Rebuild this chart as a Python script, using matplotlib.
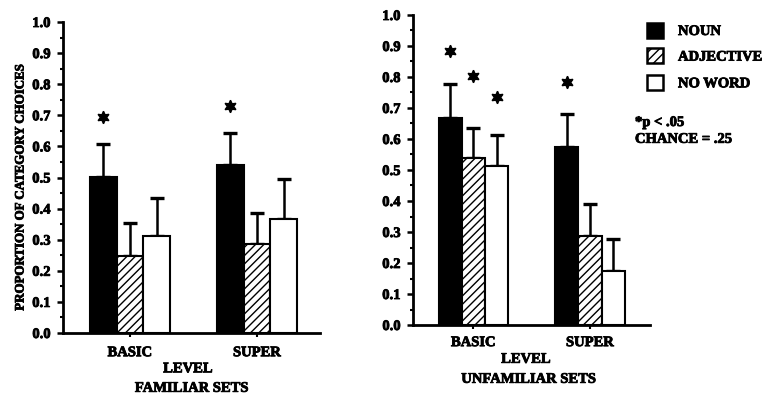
import numpy as np
import matplotlib
matplotlib.use("Agg")
import matplotlib.pyplot as plt
from matplotlib.patches import Rectangle
import matplotlib.patheffects as pe

# ---------------- data ----------------
levels = ["BASIC", "SUPER"]
series = ["NOUN", "ADJECTIVE", "NO WORD"]

fam_mean = {"NOUN": [0.503, 0.540], "ADJECTIVE": [0.249, 0.286], "NO WORD": [0.313, 0.367]}
fam_err = {"NOUN": [0.104, 0.104], "ADJECTIVE": [0.104, 0.099], "NO WORD": [0.120, 0.127]}
fam_star = {"NOUN": [0.695, 0.730], "ADJECTIVE": [np.nan, np.nan], "NO WORD": [np.nan, np.nan]}

unf_mean = {"NOUN": [0.669, 0.574], "ADJECTIVE": [0.538, 0.286], "NO WORD": [0.512, 0.175]}
unf_err = {"NOUN": [0.107, 0.108], "ADJECTIVE": [0.098, 0.103], "NO WORD": [0.101, 0.102]}
unf_star = {"NOUN": [0.885, 0.785], "ADJECTIVE": [0.802, np.nan], "NO WORD": [0.737, np.nan]}

yticks = [0.0, 0.1, 0.2, 0.3, 0.4, 0.5, 0.6, 0.7, 0.8, 0.9, 1.0]
ytick_labels = ["0.0", "0.1", "0.2", "0.3", "0.4", "0.5", "0.6", "0.7", "0.8", "0.9", "1.0"]
ylabel = "PROPORTION OF CATEGORY CHOICES"
xlabel = "LEVEL"
titles = ["FAMILIAR SETS", "UNFAMILIAR SETS"]
notes = ["*p < .05", "CHANCE = .25"]

# ---------------- style ----------------
FONT = "Liberation Serif"
plt.rcParams["font.family"] = [FONT, "DejaVu Serif"]
plt.rcParams["font.weight"] = "bold"
plt.rcParams["hatch.linewidth"] = 1.0
BOLDEN = [pe.withStroke(linewidth=0.6, foreground="black")]

styles = {
    "NOUN": dict(facecolor="black", edgecolor="black", hatch=None),
    "ADJECTIVE": dict(facecolor="white", edgecolor="black", hatch="////"),
    "NO WORD": dict(facecolor="white", edgecolor="black", hatch=None),
}

fig = plt.figure(figsize=(7.66, 3.94), dpi=100)
W, H = 766.0, 394.0

def fx(px):
    return px / W

def fy(py):
    return 1 - py / H

ax1 = fig.add_axes([fx(63), fy(333), fx(320) - fx(63), fy(22) - fy(333)])
ax2 = fig.add_axes([fx(413), fy(325), fx(650) - fx(413), fy(15) - fy(325)])


def draw(ax, mean, err, star, width, xlim, tickpad):
    x = np.arange(len(levels))
    for i, s in enumerate(series):
        pos = x + (i - 1) * width
        st = styles[s]
        ax.bar(pos, mean[s], width=width, color=st["facecolor"], edgecolor=st["edgecolor"],
               hatch=st["hatch"], linewidth=1.5, zorder=2)
        ax.errorbar(pos, mean[s], yerr=[np.zeros(len(levels)), err[s]], fmt="none",
                    ecolor="black", elinewidth=1.8, capsize=5, capthick=2.4, zorder=1)
        ax.plot(pos, star[s], linestyle="none", marker=(6, 1, 0), markersize=9,
                color="black", zorder=3)
    ax.set_xlim(*xlim)
    ax.set_ylim(0, 1.0)
    ax.set_xticks(x)
    ax.set_xticklabels(levels, fontsize=10.5, fontweight="bold")
    ax.set_yticks(yticks)
    ax.set_yticklabels(ytick_labels, fontsize=10.5, fontweight="bold")
    ax.set_yticks(np.arange(0.05, 1.0, 0.1), minor=True)
    for lab in ax.get_xticklabels() + ax.get_yticklabels():
        lab.set_path_effects(BOLDEN)
    for side in ["top", "right"]:
        ax.spines[side].set_visible(False)
    for side in ["left", "bottom"]:
        ax.spines[side].set_linewidth(2.0)
    ax.tick_params(axis="y", which="major", direction="out", length=4.5, width=1.8, pad=4.5)
    ax.tick_params(axis="y", which="minor", direction="out", length=2.5, width=1.5)
    ax.tick_params(axis="x", which="major", direction="out", length=3, width=1.5, pad=tickpad)


draw(ax1, fam_mean, fam_err, fam_star, 0.21, (-0.528, 1.496), 6.5)
draw(ax2, unf_mean, unf_err, unf_star, 0.20, (-0.519, 1.515), 5.0)

def t(x, y, s, **kw):
    kw.setdefault("fontsize", 10.5)
    return fig.text(x, y, s, fontweight="bold", path_effects=BOLDEN, **kw)

# y label (left panel only)
t(fx(20.5), fy(188), ylabel, rotation=90, ha="center", va="center", fontsize=9.3)

# level / set labels
t(fx(188), fy(372.3), xlabel, ha="center", va="baseline")
t(fx(192), fy(391.8), titles[0], ha="center", va="baseline")
t(fx(526), fy(362.8), xlabel, ha="center", va="baseline")
t(fx(529), fy(382.8), titles[1], ha="center", va="baseline")

# legend (drawn manually)
box_tops = [22.7, 48.3, 75.0]
for s, top in zip(series, box_tops):
    st = styles[s]
    rect = Rectangle((fx(646.7), fy(top + 15)), fx(16), 15 / H, transform=fig.transFigure,
                     facecolor=st["facecolor"], edgecolor="black", hatch=st["hatch"],
                     linewidth=1.8)
    fig.patches.append(rect)
    t(fx(678), fy(top + 7.5 + 4.8), s, ha="left", va="baseline")

t(fx(635), fy(126), notes[0], ha="left", va="baseline")
t(fx(635), fy(142.8), notes[1], ha="left", va="baseline")

fig.savefig("out.png", dpi=100)
